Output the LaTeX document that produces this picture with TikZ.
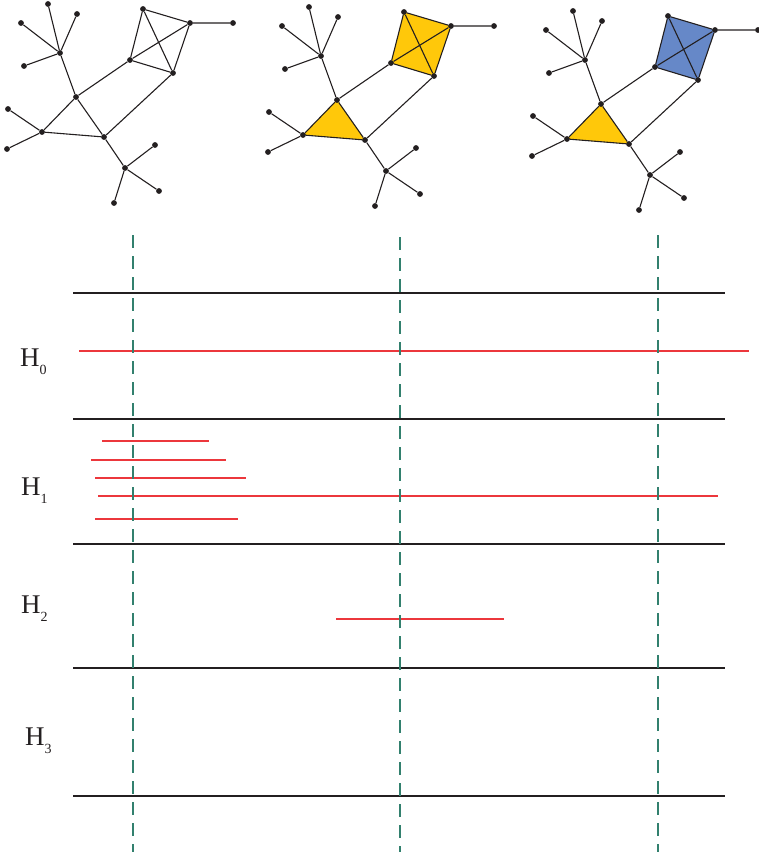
\documentclass[tikz,border=0pt]{standalone}
\usepackage{fontspec}
\setmainfont{Liberation Serif}
\usetikzlibrary{backgrounds}
\definecolor{goldfill}{RGB}{255,200,10}
\definecolor{bluefill}{RGB}{102,136,200}
\definecolor{tealdash}{RGB}{50,128,110}
\definecolor{barred}{RGB}{236,55,60}
\definecolor{inkblack}{RGB}{35,31,32}
\tikzset{
  dot/.style={circle,fill=inkblack,inner sep=0pt,minimum size=5.8pt},
  edge/.style={draw=inkblack,line width=1.1pt},
  hbar/.style={draw=inkblack,line width=2.7pt},
  vdash/.style={draw=tealdash,line width=2.6pt,dash pattern=on 13pt off 8pt},
  bar/.style={draw=barred,line width=1.2pt},
  lab/.style={anchor=base west,inner sep=0pt,text=inkblack}
}
\newcommand\gdraw[4]{%
\begin{scope}[shift={#2}]
\node[dot] (#1h) at (60,53) {};
\node[dot] (#1la) at (48,4) {};
\node[dot] (#1lb) at (77,14) {};
\node[dot] (#1lc) at (21,23) {};
\node[dot] (#1ld) at (24,66) {};
\node[dot] (#1B) at (76,97) {};
\node[dot] (#1C) at (42,132) {};
\node[dot] (#1ca) at (8,109) {};
\node[dot] (#1cb) at (7,149) {};
\node[dot] (#1D) at (104,137) {};
\node[dot] (#1E) at (125,168) {};
\node[dot] (#1ea) at (155,145) {};
\node[dot] (#1eb) at (159,191) {};
\node[dot] (#1ec) at (114,203) {};
\node[dot] (#1Ka) at (143,9) {};
\node[dot] (#1Kb) at (190,23) {};
\node[dot] (#1Kc) at (130,60) {};
\node[dot] (#1Kd) at (173,73) {};
\node[dot] (#1k) at (233,23) {};
\begin{pgfonlayer}{background}
\path[#3] (#1B.center) -- (#1C.center) -- (#1D.center) -- cycle;
\path[#4] (#1Ka.center) -- (#1Kb.center) -- (#1Kd.center) -- (#1Kc.center) -- cycle;
\end{pgfonlayer}
\draw[edge] (#1h) -- (#1la) (#1h) -- (#1lb) (#1h) -- (#1lc) (#1h) -- (#1ld)
  (#1h) -- (#1B) (#1B) -- (#1C) (#1B) -- (#1D) (#1C) -- (#1D)
  (#1C) -- (#1ca) (#1C) -- (#1cb) (#1D) -- (#1E)
  (#1E) -- (#1ea) (#1E) -- (#1eb) (#1E) -- (#1ec)
  (#1B) -- (#1Kc) (#1D) -- (#1Kd)
  (#1Ka) -- (#1Kb) (#1Ka) -- (#1Kc) (#1Ka) -- (#1Kd)
  (#1Kb) -- (#1Kc) (#1Kb) -- (#1Kd) (#1Kc) -- (#1Kd)
  (#1Kb) -- (#1k);
\end{scope}}
\begin{document}
\begin{tikzpicture}[x=1pt,y=-1pt]
\useasboundingbox (0,0) rectangle (759,856);
\gdraw{p}{(0,0)}{draw=none}{draw=none}
\gdraw{q}{(261,3)}{fill=goldfill}{fill=goldfill}
\gdraw{r}{(525,7)}{fill=goldfill}{fill=bluefill}
% black horizontal separators
\foreach \yy in {293,419,544,668,796} \draw[hbar] (73,\yy) -- (725,\yy);
% red persistence bars
\draw[bar] (79,351) -- (749,351);
\draw[bar] (102,441) -- (209,441);
\draw[bar] (91,460) -- (226,460);
\draw[bar] (95,478) -- (246,478);
\draw[bar] (98,496) -- (718,496);
\draw[bar] (95,519) -- (238,519);
\draw[bar] (336,619) -- (504,619);
% dashed verticals
\draw[vdash] (133,235) -- (133,852);
\draw[vdash] (400,237) -- (400,852);
\draw[vdash] (658,235) -- (658,852);
% labels
\node[lab] (h0) at (20,366) {\fontsize{27}{27}\selectfont H\raisebox{-8pt}{\fontsize{14}{14}\selectfont 0}};
\node[lab] (h1) at (21,495) {\fontsize{27}{27}\selectfont H\raisebox{-8pt}{\fontsize{14}{14}\selectfont 1}};
\node[lab] (h2) at (21,613) {\fontsize{27}{27}\selectfont H\raisebox{-8pt}{\fontsize{14}{14}\selectfont 2}};
\node[lab] (h3) at (25,745) {\fontsize{27}{27}\selectfont H\raisebox{-8pt}{\fontsize{14}{14}\selectfont 3}};
\end{tikzpicture}
\end{document}
